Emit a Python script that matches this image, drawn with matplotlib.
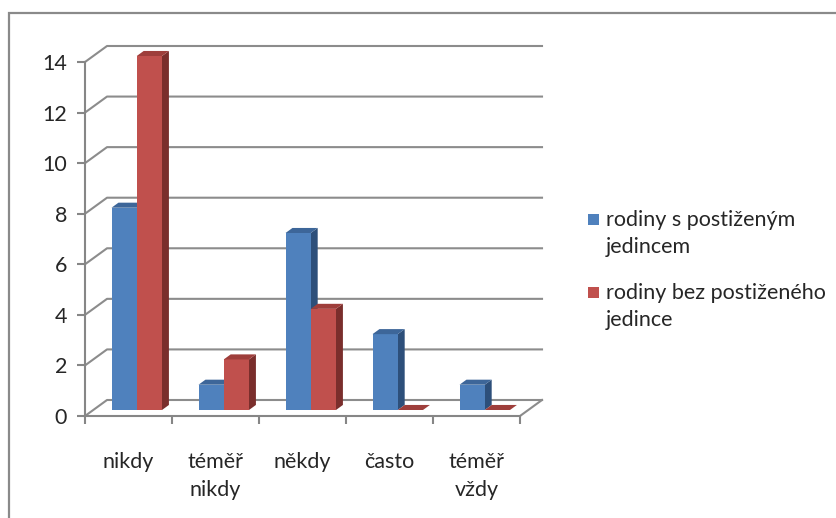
import numpy as np
import matplotlib.pyplot as plt
from matplotlib.patches import Polygon, Rectangle

plt.rcParams['font.family'] = ['Lato', 'DejaVu Sans']

# data
categories = ['nikdy', 'téměř\nnikdy', 'někdy', 'často', 'téměř\nvždy']
series_names = ['rodiny s postiženým\njedincem', 'rodiny bez postiženého\njedince']
s_with = [8, 1, 7, 3, 1]
s_without = [14, 2, 4, 0, 0]
y_ticks = [0, 2, 4, 6, 8, 10, 12, 14]

# colours: front, top, side
blue = ('#4F81BD', '#3D6699', '#2D4F7A')
red = ('#C0504D', '#9E3E3B', '#7A2E2C')
grid_c = '#8C8C8C'
text_c = '#262626'
fs = 15.5

# depth of the 3d box in data units
DX, DY = 0.253, 0.633
f0, f1 = 0.375, 0.69   # bar front/back inside the depth
bw = 0.29              # bar width


def bar3d(ax, x0, v, cols):
    x1 = x0 + bw
    ox0, oy0 = f0 * DX, f0 * DY
    ox1, oy1 = f1 * DX, f1 * DY
    front = [(x0 + ox0, oy0), (x1 + ox0, oy0), (x1 + ox0, v + oy0), (x0 + ox0, v + oy0)]
    top = [(x0 + ox0, v + oy0), (x1 + ox0, v + oy0), (x1 + ox1, v + oy1), (x0 + ox1, v + oy1)]
    side = [(x1 + ox0, oy0), (x1 + ox1, oy1), (x1 + ox1, v + oy1), (x1 + ox0, v + oy0)]
    for pts, c in ((side, cols[2]), (front, cols[0]), (top, cols[1])):
        ax.add_patch(Polygon(pts, closed=True, facecolor=c, edgecolor='none',
                             clip_on=False, zorder=3))


fig = plt.figure(figsize=(8.37, 5.18), dpi=100)
fig.patch.set_facecolor('white')
ax = fig.add_axes([85 / 837, 102 / 518, 435 / 837, 354 / 518])
ax.set_xlim(0, 5)
ax.set_ylim(0, 14)
ax.set_facecolor('none')

# chart border
fig.patches.append(Rectangle((9 / 837, -0.1), 1.2, 1 - 13 / 518 + 0.1,
                             transform=fig.transFigure, fill=False,
                             edgecolor='#8A8A8A', linewidth=1.6))

# back wall gridlines and side wall diagonals
for v in y_ticks:
    ax.plot([0, DX, 5 + DX], [v, v + DY, v + DY], color=grid_c, lw=1.5,
            clip_on=False, zorder=1)
ax.plot([5, 5 + DX], [0, DY], color=grid_c, lw=1.5, clip_on=False, zorder=1)

# bars
for i in range(len(categories)):
    left = i + 0.5 - bw
    bar3d(ax, left, s_with[i], blue)
    bar3d(ax, left + bw, s_without[i], red)

# axes
for sp in ['top', 'right']:
    ax.spines[sp].set_visible(False)
for sp in ['left', 'bottom']:
    ax.spines[sp].set_color('#868686')
    ax.spines[sp].set_linewidth(1.5)

ax.set_yticks(y_ticks)
ax.tick_params(axis='y', length=6, width=1.5, color='#868686', pad=7,
               labelsize=fs, labelcolor=text_c)
ax.set_xticks(np.arange(len(categories)) + 0.5)
ax.set_xticklabels(categories, linespacing=1.5)
ax.set_xticks(np.arange(len(categories) + 1), minor=True)
ax.tick_params(axis='x', which='major', length=0, pad=26, labelsize=fs,
               labelcolor=text_c)
ax.tick_params(axis='x', which='minor', length=6, width=1.5, color='#868686')

# legend
leg_y = [1 - 214 / 518, 1 - 287 / 518]
for name, cols, y in zip(series_names, (blue, red), leg_y):
    fig.patches.append(Rectangle((588 / 837, y - 11 / 518), 11 / 837, 11 / 518,
                                 transform=fig.transFigure,
                                 facecolor=cols[0], edgecolor='none'))
    fig.text(606 / 837, y + 4 / 518, name, fontsize=fs, color=text_c,
             va='top', ha='left', linespacing=1.45)

fig.savefig('out.png', dpi=100, facecolor='white')
